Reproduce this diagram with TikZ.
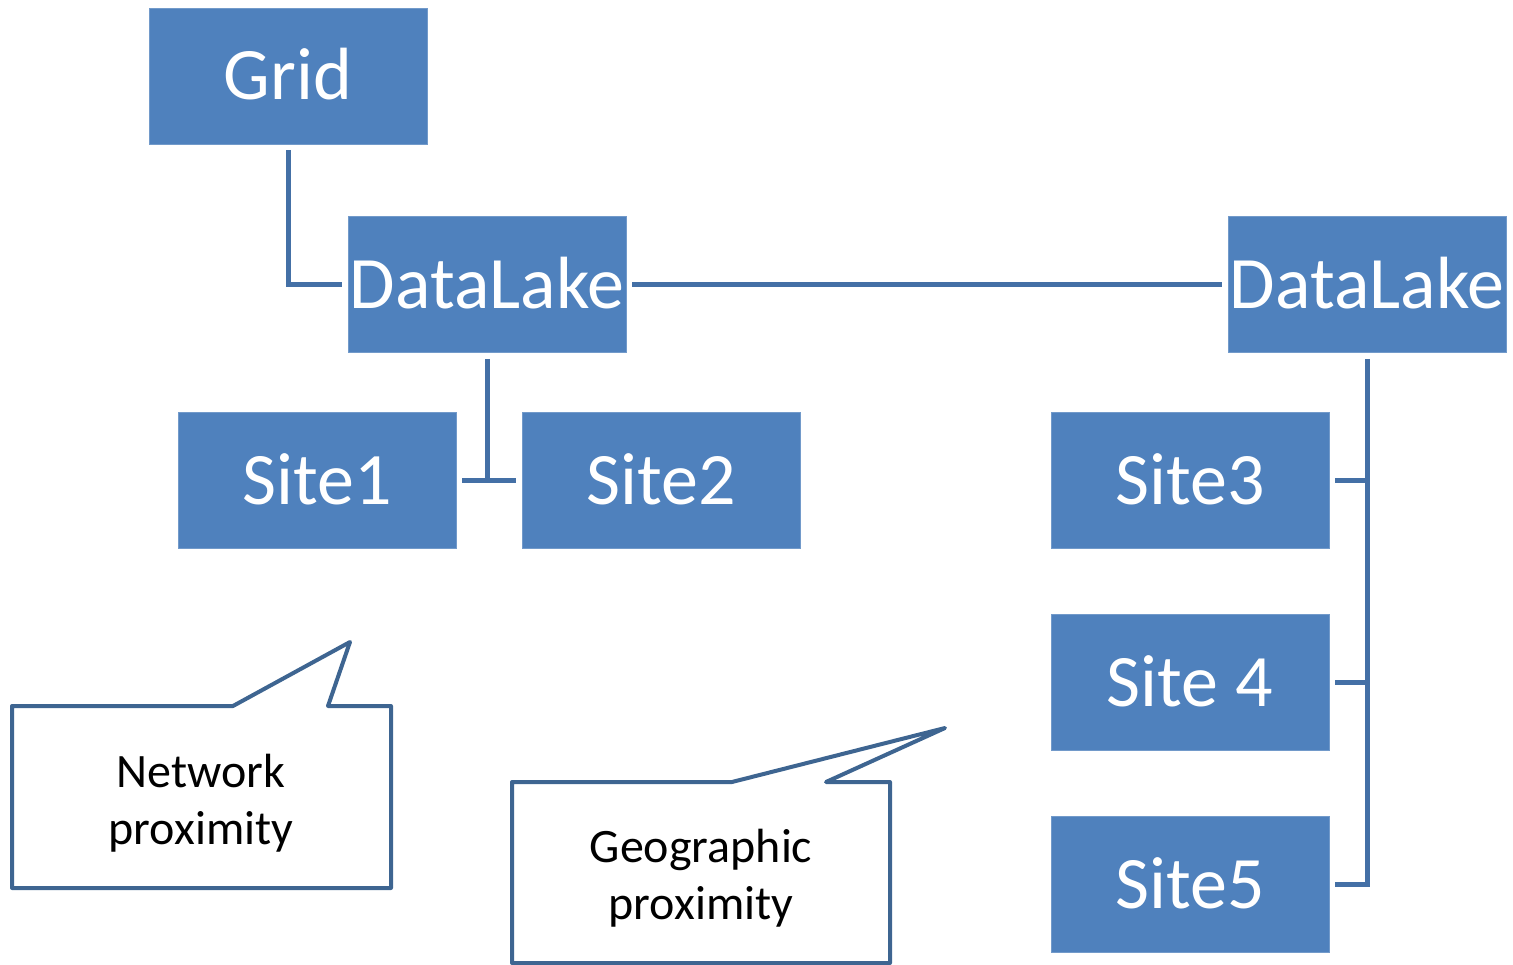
\documentclass[tikz,border=0pt]{standalone}
\usepackage{fontspec}
\setmainfont{Carlito}
\definecolor{boxblue}{HTML}{4F81BD}
\definecolor{linkblue}{HTML}{4470A6}
\definecolor{calloutblue}{HTML}{3E6591}
\tikzset{
  sitebox/.style={fill=boxblue, draw=boxblue!80!white, line width=0.8pt,
    minimum width=278pt, minimum height=136pt, inner sep=0pt,
    text=white, font=\fontsize{74}{82}\selectfont, text height=48pt, text depth=0pt},
  link/.style={draw=linkblue, line width=5pt},
  callout/.style={draw=calloutblue, line width=4pt, line join=round, fill=white},
  callouttext/.style={align=center, font=\fontsize{48}{57}\selectfont, inner sep=0pt}
}
\begin{document}
\begin{tikzpicture}[x=1pt, y=-1pt]
\useasboundingbox (0,0) rectangle (1513,965);

% boxes
\node[sitebox] (grid) at (288,76) {Grid};
\node[sitebox] (lakeA) at (487,284.5) {DataLake};
\node[sitebox] (lakeB) at (1367,284.5) {DataLake};
\node[sitebox] (site1) at (317,480) {Site1};
\node[sitebox] (site2) at (661,480) {Site2};
\node[sitebox] (site3) at (1190,480) {Site3};
\node[sitebox] (site4) at (1190,682) {Site 4};
\node[sitebox] (site5) at (1190,884) {Site5};

% connectors
\draw[link] ([yshift=-6pt]grid.south) |- ([xshift=-6pt]lakeA.west);
\draw[link] ([xshift=6pt]lakeA.east) -- ([xshift=-6pt]lakeB.west);
\coordinate (joinA) at (lakeA.south |- site1.east);
\draw[link] ([yshift=-6pt]lakeA.south) -- (joinA);
\draw[link] ([xshift=6pt]site1.east) -- ([xshift=-6pt]site2.west);
\coordinate (joinB) at (lakeB.south |- site5.east);
\draw[link] ([yshift=-6pt]lakeB.south) -- (joinB) -- ([xshift=6pt]site5.east);
\draw[link] ([xshift=6pt]site3.east) -- (lakeB.south |- site3.east);
\draw[link] ([xshift=6pt]site4.east) -- (lakeB.south |- site4.east);

% callouts
\draw[callout] (12,706) -- (233,706) -- (350,642) -- (328,706) -- (391,706)
  -- (391,888) -- (12,888) -- cycle;
\node[callouttext] (netnote) at (201,803) {Network\\proximity};

\draw[callout] (512,782) -- (732,782) -- (945,728) -- (826,782) -- (890,782)
  -- (890,963) -- (512,963) -- cycle;
\node[callouttext] (geonote) at (701,878) {Geographic\\proximity};
\end{tikzpicture}
\end{document}
